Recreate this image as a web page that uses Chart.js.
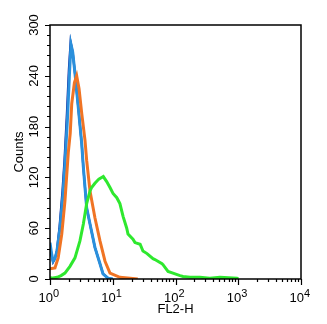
<!DOCTYPE html>
<html>
<head>
<meta charset="utf-8">
<script src="https://cdn.jsdelivr.net/npm/chart.js@4.4.1/dist/chart.umd.min.js"></script>
<style>
  body { margin: 0; background: #fff; }
  canvas { display: block; }
</style>
</head>
<body>
<canvas class="js-histo" width="327" height="324"></canvas>
<script>
// channel (FL2-H) positions and counts
const navyCh = [1.0, 1.06, 1.12, 1.2, 1.29, 1.42, 1.58, 1.7, 1.86, 2.0, 2.13, 2.3, 2.5, 2.82, 3.2, 3.4, 3.84, 4.34, 5.21, 6.26, 7.0, 8.4, 10];
const navyCounts = [40, 28, 20, 24, 34, 62, 104, 140, 196, 248, 280, 268, 243, 203, 160, 132, 84, 65, 37, 18, 6, 1, 0];

const blueCh = [1.0, 1.06, 1.12, 1.2, 1.29, 1.44, 1.61, 1.73, 1.9, 2.05, 2.16, 2.3, 2.5, 2.82, 3.2, 3.4, 3.84, 4.34, 5.21, 6.26, 7.0, 8.4, 10];
const blueCounts = [43, 30, 21, 24, 33, 60, 100, 136, 190, 245, 277, 268, 243, 203, 160, 132, 84, 65, 37, 18, 6, 1, 0];

const orangeCh = [1.0, 1.2, 1.35, 1.54, 1.73, 1.96, 2.1, 2.22, 2.45, 2.66, 2.9, 3.2, 3.61, 3.84, 4.34, 5.21, 6.26, 7.53, 9.04, 13, 19, 25];
const orangeCounts = [12, 13, 25, 53, 92, 150, 172, 207, 232, 240, 225, 196, 164, 140, 104, 72, 45, 21, 7, 2, 1, 0];

const greenCh = [1.0, 1.06, 1.3, 1.5, 1.73, 2.08, 2.5, 3.0, 3.4, 3.84, 4.34, 4.6, 5.2, 6.0, 7.07, 8.0, 9.04, 10.1, 11.6, 13, 14.6, 16.7, 17.5, 21, 22.6, 27.3, 30.3, 35.2, 43.8, 47, 61, 63, 76, 91, 118, 132, 170, 245, 353, 510, 954, 1000];
const greenCounts = [2, 1, 2, 4, 7, 15, 25, 45, 65, 89, 104, 108, 113, 118, 121, 115, 108, 101, 96, 89, 74, 60, 53, 47, 43, 41, 33, 30, 24, 23, 18, 17, 9, 7, 4, 3, 2, 2, 1, 2, 1, 0];

// axis ticks
const xDecades = [0, 1, 2, 3, 4];
const yTickValues = [0, 60, 120, 180, 240, 300];
const yMinorStep = 12;

const toPoints = function (ch, counts) {
  return ch.map((c, i) => ({ x: c, y: counts[i] }));
};

const axisMarks = {
  id: "axisMarks",
  afterDraw(chart) {
    const { ctx, chartArea: a, scales } = chart;
    const xs = scales.x;
    const ys = scales.y;
    ctx.save();
    ctx.strokeStyle = "#000";
    ctx.lineWidth = 1.5;
    ctx.strokeRect(a.left, a.top, a.right - a.left, a.bottom - a.top);

    ctx.lineWidth = 1.2;
    ctx.beginPath();
    // y ticks, minor every yMinorStep, long ones at labels
    for (let v = ys.min; v <= ys.max; v += yMinorStep) {
      const py = Math.round(ys.getPixelForValue(v)) + 0.5;
      const len = yTickValues.includes(v) ? 5 : 3;
      ctx.moveTo(a.left, py);
      ctx.lineTo(a.left - len, py);
    }
    // x ticks on the log scale
    xDecades.forEach((d, i) => {
      const top = i === xDecades.length - 1 ? 1 : 9;
      for (let m = 1; m <= top; m++) {
        const px = Math.round(xs.getPixelForValue(m * Math.pow(10, d))) + 0.5;
        const len = m === 1 ? 6 : 3;
        ctx.moveTo(px, a.bottom);
        ctx.lineTo(px, a.bottom + len);
      }
    });
    ctx.stroke();

    // x labels as 10 with a raised exponent
    ctx.fillStyle = "#000";
    ctx.textBaseline = "alphabetic";
    ctx.textAlign = "left";
    xDecades.forEach((d) => {
      const px = xs.getPixelForValue(Math.pow(10, d));
      ctx.font = "13px 'Liberation Sans', Arial, sans-serif";
      const w = ctx.measureText("10").width;
      ctx.fillText("10", px - 11.5, 302);
      ctx.font = "11px 'Liberation Sans', Arial, sans-serif";
      ctx.fillText(String(d), px - 11.5 + w, 296.5);
    });
    ctx.restore();
  },
};

const chartHisto = function () {
  const canvas = document.querySelector(".js-histo");
  new Chart(canvas, {
    type: "line",
    data: {
      datasets: [
        { label: "green", data: toPoints(greenCh, greenCounts), borderColor: "#2ee82e", borderWidth: 3, order: 0 },
        { label: "orange", data: toPoints(orangeCh, orangeCounts), borderColor: "#f07424", borderWidth: 3, order: 1 },
        { label: "blue", data: toPoints(blueCh, blueCounts), borderColor: "#2a90dc", borderWidth: 3, order: 2 },
        { label: "navy", data: toPoints(navyCh, navyCounts), borderColor: "#0c1a96", borderWidth: 2.2, order: 3 },
      ],
    },
    options: {
      responsive: false,
      animation: false,
      elements: { point: { radius: 0 }, line: { tension: 0 } },
      layout: { padding: { left: 0, right: 26, top: 25, bottom: 0 } },
      plugins: { legend: { display: false }, tooltip: { enabled: false } },
      scales: {
        x: {
          type: "logarithmic",
          min: 1,
          max: 10000,
          grid: { display: false, drawTicks: false },
          border: { display: false },
          ticks: { display: false },
          title: {
            display: true,
            text: "FL2-H",
            color: "#000",
            font: { family: "'Liberation Sans', Arial, sans-serif", size: 13 },
            padding: { top: 0, bottom: 7 },
          },
          afterFit: (s) => { s.height = 45; },
        },
        y: {
          min: 0,
          max: 300,
          grid: { display: false, drawTicks: false },
          border: { display: false },
          afterBuildTicks: (s) => { s.ticks = yTickValues.map((v) => ({ value: v })); },
          ticks: {
            color: "#000",
            font: { family: "'Liberation Sans', Arial, sans-serif", size: 13 },
            minRotation: 90,
            maxRotation: 90,
            crossAlign: "center",
            padding: 5,
            autoSkip: false,
          },
          title: {
            display: true,
            text: "Counts",
            color: "#000",
            font: { family: "'Liberation Sans', Arial, sans-serif", size: 13 },
            padding: { top: 12, bottom: 0 },
          },
          afterFit: (s) => { s.width = 50; },
        },
      },
    },
    plugins: [axisMarks],
  });
};

const init = function () {
  chartHisto();
};

document.addEventListener("DOMContentLoaded", init);
</script>
</body>
</html>
